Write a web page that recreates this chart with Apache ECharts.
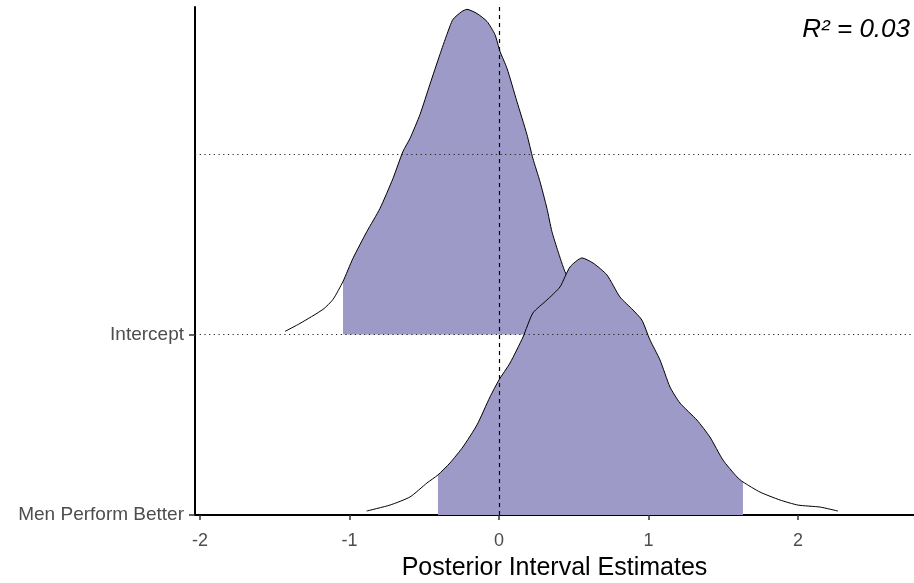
<!DOCTYPE html>
<html>
<head>
<meta charset="utf-8">
<script src="https://cdn.jsdelivr.net/npm/echarts@6/dist/echarts.min.js"></script>
<style>
  html, body { margin: 0; padding: 0; background: #ffffff; }
  #chart { width: 914px; height: 583px; }
</style>
</head>
<body>
<div id="chart"></div>
<script>
// Rows of the ridgeline plot (bottom to top)
const rowNames = ['Men Perform Better', 'Intercept'];
const rowIndex = [0, 1];
const xTicks = [-2, -1, 0, 1, 2];
const refRows = [1, 2];
const rSquared = '0.03';

// Posterior density outline for the intercept (x, ridge height in row units)
const interceptX = [-1.431, -1.331, -1.177, -1.110, -1.043, -0.977, -0.883, -0.796, -0.709, -0.642,
  -0.595, -0.528, -0.462, -0.395, -0.348, -0.308, -0.248, -0.214, -0.147, -0.080,
  -0.027, 0.007, 0.054, 0.120, 0.187, 0.227, 0.274, 0.321, 0.354, 0.395,
  0.441, 0.500, 0.580, 0.660, 0.740, 0.820];
const interceptH = [0.017, 0.061, 0.139, 0.194, 0.294, 0.421, 0.571, 0.698, 0.864, 1.014,
  1.086, 1.219, 1.385, 1.551, 1.662, 1.745, 1.789, 1.801, 1.778, 1.734,
  1.662, 1.568, 1.474, 1.291, 1.108, 0.975, 0.848, 0.698, 0.571, 0.460,
  0.349, 0.255, 0.166, 0.094, 0.044, 0.017];
const interceptCI = [-1.043, 0.580];

// Posterior density outline for "Men Perform Better"
const menX = [-0.885, -0.729, -0.595, -0.482, -0.408, -0.328, -0.241, -0.147, -0.060, 0.000,
  0.074, 0.161, 0.227, 0.321, 0.408, 0.475, 0.555, 0.629, 0.722, 0.809,
  0.896, 0.956, 1.010, 1.077, 1.144, 1.211, 1.324, 1.411, 1.498, 1.592,
  1.632, 1.746, 1.880, 2.000, 2.147, 2.267];
const menH = [0.022, 0.055, 0.100, 0.177, 0.222, 0.288, 0.377, 0.499, 0.654, 0.748,
  0.842, 0.986, 1.119, 1.191, 1.263, 1.374, 1.424, 1.396, 1.330, 1.208,
  1.136, 1.080, 0.970, 0.859, 0.709, 0.620, 0.526, 0.432, 0.305, 0.211,
  0.183, 0.127, 0.083, 0.055, 0.044, 0.022];
const menCI = [-0.408, 1.632];

const FILL = '#9E9AC8';
const FONT = "'Liberation Sans', Arial, sans-serif";

function ridgePoints(xs, hs, row) {
  return xs.map((x, i) => [x, row + hs[i]]);
}
function ciPoints(xs, hs, row, ci) {
  return ridgePoints(xs, hs, row).filter(p => p[0] >= ci[0] - 1e-9 && p[0] <= ci[1] + 1e-9);
}

function ridgeSeries(xs, hs, row, ci, zBase) {
  return [
    {
      type: 'line',
      data: ciPoints(xs, hs, row, ci),
      showSymbol: false,
      smooth: 0.2,
      lineStyle: { width: 0, opacity: 0 },
      areaStyle: { color: FILL, opacity: 1, origin: row },
      z: zBase,
      silent: true
    },
    {
      type: 'line',
      data: ridgePoints(xs, hs, row),
      showSymbol: false,
      smooth: 0.2,
      lineStyle: { color: '#000000', width: 1 },
      z: zBase + 1,
      silent: true
    }
  ];
}

const chart = echarts.init(document.getElementById('chart'), null, { renderer: 'canvas' });

const series = [
  ...ridgeSeries(interceptX, interceptH, rowIndex[1], interceptCI, 2),
  ...ridgeSeries(menX, menH, rowIndex[0], menCI, 4)
];

// Reference lines drawn over the ridges
series.push({
  type: 'line',
  data: [],
  z: 10,
  silent: true,
  markLine: {
    silent: true,
    symbol: ['none', 'none'],
    label: { show: false },
    animation: false,
    data: [
      ...refRows.map(r => ({ yAxis: r, lineStyle: { type: [1.2, 3.5], color: '#222222', width: 1.2 } })),
      { xAxis: 0, lineStyle: { type: [4, 4], color: '#000000', width: 1.2 } }
    ]
  }
});

chart.setOption({
  animation: false,
  backgroundColor: '#ffffff',
  grid: { left: 195, right: 0, top: 7, bottom: 68, containLabel: false, outerBoundsMode: 'none' },
  xAxis: {
    type: 'value',
    min: -2.033,
    max: 2.776,
    splitLine: { show: false },
    axisLine: { show: true, onZero: false, lineStyle: { color: '#000000', width: 2 } },
    axisTick: { show: true, customValues: xTicks, length: 5, lineStyle: { color: '#333333', width: 1.5 } },
    axisLabel: { customValues: xTicks, margin: 17, color: '#4D4D4D', fontSize: 18, fontFamily: FONT },
    name: 'Posterior Interval Estimates',
    nameLocation: 'middle',
    nameGap: 41,
    nameTextStyle: { color: '#000000', fontSize: 25, fontFamily: FONT }
  },
  yAxis: {
    type: 'value',
    min: 0,
    max: 2.814,
    splitLine: { show: false },
    axisLine: { show: true, onZero: false, lineStyle: { color: '#000000', width: 2 } },
    axisTick: { show: true, customValues: rowIndex, length: 6, lineStyle: { color: '#333333', width: 1.5 } },
    axisLabel: {
      customValues: rowIndex,
      margin: 11,
      color: '#4D4D4D',
      fontSize: 19,
      fontFamily: FONT,
      formatter: v => rowNames[Math.round(v)]
    }
  },
  graphic: [
    {
      type: 'text',
      right: 4,
      top: 17,
      style: {
        text: 'R² = ' + rSquared,
        fill: '#000000',
        font: 'italic 26px ' + FONT
      }
    }
  ],
  series: series
});
</script>
</body>
</html>
